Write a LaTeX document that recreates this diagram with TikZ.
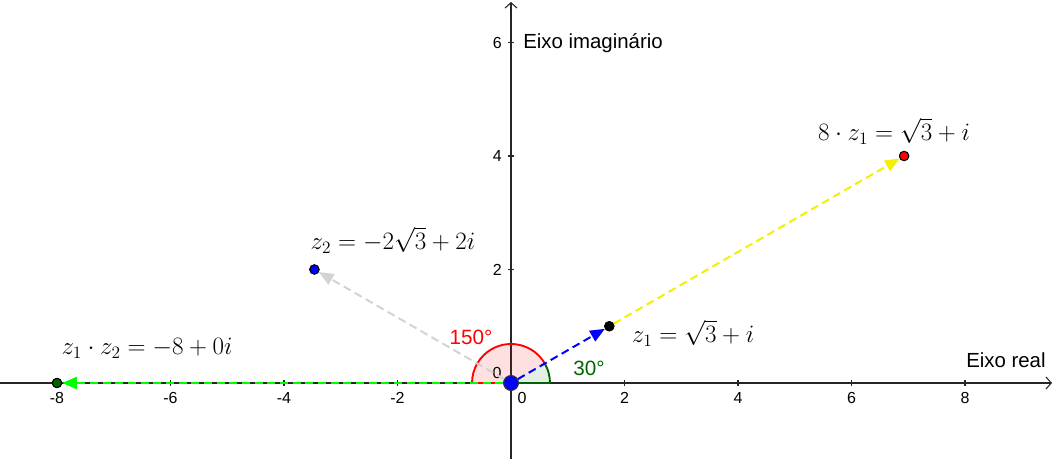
\documentclass[tikz,border=0pt]{standalone}
\usepackage{fontspec}
\setmainfont{Liberation Sans}
\usetikzlibrary{arrows.meta}
\definecolor{ggred}{RGB}{255,0,0}
\definecolor{ggdkgreen}{RGB}{0,100,0}
\definecolor{gggray}{RGB}{211,211,211}
\definecolor{ggyellow}{RGB}{255,255,0}
\definecolor{gggreen}{RGB}{0,255,0}
\definecolor{ggblue}{RGB}{0,0,255}
\newcommand{\mlab}[1]{\scalebox{1.085}{$#1$}}
\tikzset{
  axis/.style={line width=0.8pt, black!85},
  tick/.style={line width=0.8pt, black!85},
  ticklab/.style={font=\fontsize{12}{14}\selectfont, inner sep=0pt},
  axlab/.style={font=\fontsize{15.3}{18}\selectfont, inner sep=0pt},
  anglab/.style={font=\fontsize{15.5}{18}\selectfont, inner sep=0pt},
  mathlab/.style={font=\fontsize{17.28}{20}\selectfont, inner sep=0pt},
  vec/.style={line width=1.5pt, dash pattern=on 6pt off 3.5pt, -{Triangle[length=11pt,width=9pt]}},
  dot/.style={circle, draw=black, line width=0.7pt, minimum size=7pt, inner sep=0pt},
  bigdot/.style={circle, draw=black!80, line width=0.7pt, minimum size=11pt, inner sep=0pt, fill=ggblue}
}
\begin{document}
\begin{tikzpicture}[x=0.75pt,y=-0.75pt]
\useasboundingbox (0,0) rectangle (1056,459);
% axes
\coordinate (xl) at (0,383);
\coordinate (xr) at (1052,383);
\coordinate (yb) at (511,459);
\coordinate (yt) at (511,2);
\draw[axis,-{Straight Barb[length=4pt,width=9pt]}] (xl) -- (xr);
\draw[axis,-{Straight Barb[length=4pt,width=9pt]}] (yb) -- (yt);
% ticks x
\foreach \k in {-8,-6,-4,-2,2,4,6,8}{
  \draw[tick] ({511+56.75*\k},380) -- ({511+56.75*\k},386);
  \node[ticklab] (tx\k) at ({511+56.75*\k},398) {\k};
}
% ticks y
\foreach \k in {2,4,6}{
  \draw[tick] (508,{383-56.75*\k}) -- (514,{383-56.75*\k});
  \node[ticklab, anchor=east] (ty\k) at (502,{383-56.75*\k}) {\k};
}
\node[ticklab] (zero) at (522,398) {0};
\node[axlab, anchor=west] (xlab) at (966,360) {Eixo real};
\node[axlab, anchor=west] (ylab) at (523,43) {Eixo imaginário};
% points
\coordinate (Oc) at (511,383);
% sectors (y axis points down: angles negated)
\fill[ggred, fill opacity=0.12] (Oc) -- ++(-30:39) arc[start angle=-30, end angle=-180, radius=39] -- cycle;
\draw[ggred, line width=1.4pt] (Oc) ++(-30:39) arc[start angle=-30, end angle=-180, radius=39] -- (Oc);
\fill[ggdkgreen, fill opacity=0.1] (Oc) -- ++(0:39) arc[start angle=0, end angle=-30, radius=39] -- cycle;
\draw[ggdkgreen, line width=1.4pt] (Oc) -- ++(0:39) arc[start angle=0, end angle=-30, radius=39];
\node[ticklab] (zero2) at (497,373) {0};
% dots (nodes)
\node[dot, fill=black] (z1) at (609.3,326.25) {};
\node[dot, fill=ggred] (w) at (904.1,156) {};
\node[dot, fill=ggblue] (z2) at (314.4,269.5) {};
\node[dot, fill=ggdkgreen] (p) at (57,383) {};
\node[bigdot] (O) at (Oc) {};
% vectors
\draw[vec, ggyellow!95!black] (z1) -- (w);
\draw[vec, gggray] (O) -- (z2);
\draw[vec, gggreen] (O) -- (p);
\draw[vec, ggblue] (O) -- (z1);
% redraw dots on top
\node[dot, fill=black] at (z1) {};
\node[dot, fill=ggred] at (w) {};
\node[dot, fill=ggblue] at (z2) {};
\node[dot, fill=ggdkgreen] at (p) {};
\node[bigdot] at (Oc) {};
% angle labels
\node[anglab, text=ggred] (a150) at (471,337) {150°};
\node[anglab, text=ggdkgreen] (a30) at (589,368) {30°};
% math labels
\node[mathlab] (lz1) at (693,333) {\mlab{z_1=\sqrt{3}+i}};
\node[mathlab] (lw) at (894,131) {\mlab{8\cdot z_1=\sqrt{3}+i}};
\node[mathlab] (lz2) at (393,240) {\mlab{z_2=-2\sqrt{3}+2i}};
\node[mathlab] (lp) at (147,348) {\mlab{z_1\cdot z_2=-8+0i}};
\end{tikzpicture}
\end{document}
